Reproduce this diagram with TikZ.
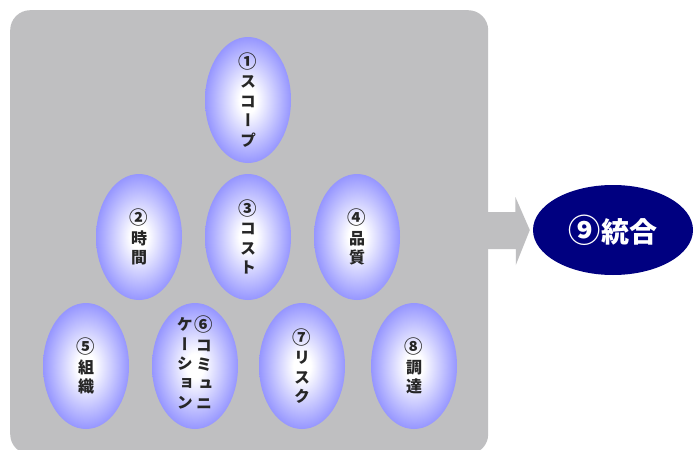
\documentclass[tikz,border=0pt]{standalone}
\usepackage{fontspec}
\newfontfamily\cjkv[RawFeature=+vert]{Noto Sans CJK JP}
\newfontfamily\cjkh{Noto Sans CJK JP}
\usetikzlibrary{shapes.geometric,calc}
\definecolor{boxgray}{RGB}{191,191,193}
\definecolor{ovalblue}{RGB}{150,150,255}
\definecolor{navyblue}{RGB}{0,0,128}
\pgfdeclareradialshading{ovalshade}{\pgfpoint{0bp}{0bp}}{color(0bp)=(white); color(5bp)=(white); color(25bp)=(ovalblue); color(50bp)=(ovalblue)}
\newcommand\cnum[1]{\scalebox{1.15}{#1}}
\tikzset{
  item/.style={ellipse, minimum width=86pt, minimum height=126pt, inner sep=0pt,
    shading=ovalshade},
  itemtext/.style={inner sep=0pt, align=center, text=black!85,
    font=\cjkv\bfseries\fontsize{16}{19.5}\selectfont},
  panel/.style={fill=boxgray, rounded corners=20pt, inner sep=0pt, anchor=north west},
  bigarrow/.style={fill=boxgray},
  goal/.style={ellipse, fill=navyblue, minimum width=160pt, minimum height=90pt, inner sep=0pt,
    text=white, font=\cjkh\bfseries\fontsize{28}{32}\selectfont}
}
\begin{document}
\begin{tikzpicture}[x=1pt,y=-1pt]
\clip (0,0) rectangle (694,450);
\fill[white] (0,0) rectangle (694,450);
\node[panel, minimum width=478pt, minimum height=444pt] (box) at (10,10) {};
\node[item] (n1) at (248,100) {};
\node[item] (n2) at (139,237) {};
\node[item] (n3) at (248,237) {};
\node[item] (n4) at (357,237) {};
\node[item] (n5) at (86,366) {};
\node[item] (n6) at (195,366) {};
\node[item] (n7) at (302,366) {};
\node[item] (n8) at (414,366) {};
\node[itemtext] (t1) at (n1) {\cnum{①}\\ス\\コ\\ー\\プ};
\node[itemtext] (t2) at (n2) {\cnum{②}\\時\\間};
\node[itemtext] (t3) at (n3) {\cnum{③}\\コ\\ス\\ト};
\node[itemtext] (t4) at (n4) {\cnum{④}\\品\\質};
\node[itemtext] (t5) at (n5) {\cnum{⑤}\\組\\織};
\node[itemtext] (t6) at (n6) {\begin{tabular}{@{}c@{}}ケ\\ー\\シ\\ョ\\ン\end{tabular}\hspace{2pt}\begin{tabular}{@{}c@{}}\cnum{⑥}\\コ\\ミ\\ュ\\ニ\end{tabular}};
\node[itemtext] (t7) at (n7) {\cnum{⑦}\\リ\\ス\\ク};
\node[itemtext] (t8) at (n8) {\cnum{⑧}\\調\\達};
\node[goal] (n9) at (613,230) {\cnum{⑨}統合};
\coordinate (a0) at (box.east |- n9);
\fill[bigarrow] ($(a0)+(-2,-18)$) -- ++(29,0) -- ++(0,-15) -- ($(n9.west)+(-3,0)$) -- ++(-14,35) -- ++(0,-16) -- ($(a0)+(-2,19)$) -- cycle;
\end{tikzpicture}
\end{document}
